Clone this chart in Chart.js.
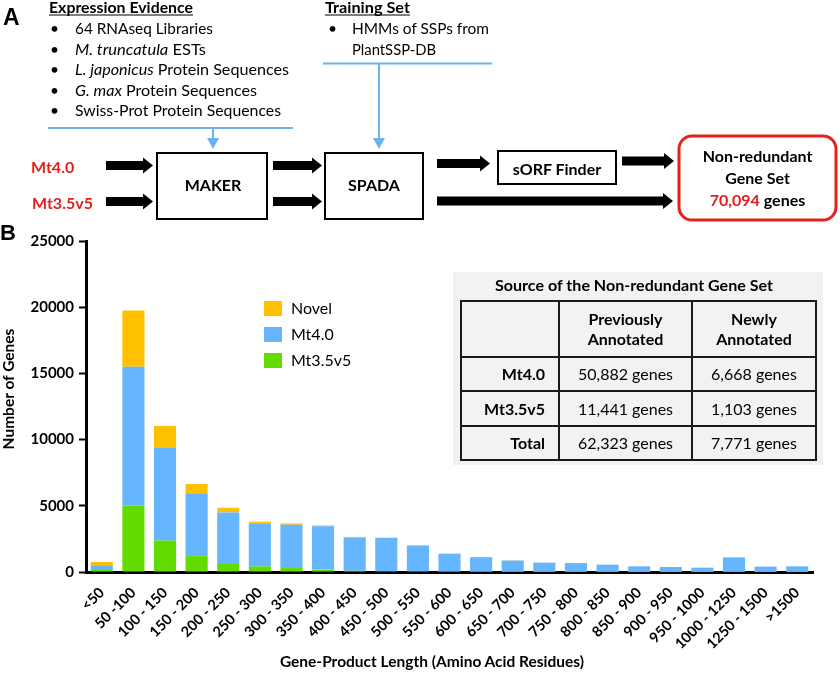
<!DOCTYPE html>
<html><head><meta charset="utf-8">
<script src="https://cdn.jsdelivr.net/npm/chart.js@4"></script>
<style>
html,body{margin:0;padding:0;background:#fff;}
#wrap{position:relative;width:840px;height:675px;overflow:hidden;}
#c{position:absolute;left:0;top:0;}
#ov{position:absolute;left:0;top:0;font-family:Lato,'Open Sans',sans-serif;}
</style></head><body>
<div id="wrap">
<canvas id="c" width="840" height="675"></canvas>
<svg id="ov" width="840" height="675" xmlns="http://www.w3.org/2000/svg">
  <!-- Panel A -->
  <text x="3" y="25" font-family="'Liberation Sans',Arial,sans-serif" font-weight="bold" font-size="23">A</text>
  <text x="49" y="12.5" font-weight="bold" font-size="15" textLength="144" lengthAdjust="spacingAndGlyphs">Expression Evidence</text>
  <line x1="49" y1="15" x2="193" y2="15" stroke="#000" stroke-width="1.2"/>
  <g font-size="15.5">
    <text x="50" y="34">•</text><text x="75" y="34" textLength="138" lengthAdjust="spacingAndGlyphs">64 RNAseq Libraries</text>
    <text x="50" y="54.5">•</text><text x="75" y="54.5" textLength="131" lengthAdjust="spacingAndGlyphs"><tspan font-style="italic">M. truncatula</tspan> ESTs</text>
    <text x="50" y="75">•</text><text x="75" y="75" textLength="214" lengthAdjust="spacingAndGlyphs"><tspan font-style="italic">L. japonicus</tspan> Protein Sequences</text>
    <text x="50" y="95.5">•</text><text x="75" y="95.5" textLength="182" lengthAdjust="spacingAndGlyphs"><tspan font-style="italic">G. max</tspan> Protein Sequences</text>
    <text x="50" y="116">•</text><text x="75" y="116" textLength="206" lengthAdjust="spacingAndGlyphs">Swiss-Prot Protein Sequences</text>
  </g>
  <text x="325" y="12.5" font-weight="bold" font-size="15" textLength="85" lengthAdjust="spacingAndGlyphs">Training Set</text>
  <line x1="325" y1="15" x2="410" y2="15" stroke="#000" stroke-width="1.2"/>
  <g font-size="15.5">
    <text x="328" y="34">•</text><text x="352" y="34" textLength="137" lengthAdjust="spacingAndGlyphs">HMMs of SSPs from</text>
    <text x="352" y="54.5" textLength="84" lengthAdjust="spacingAndGlyphs">PlantSSP-DB</text>
  </g>
  <!-- blue lines and arrows -->
  <g stroke="#6ab3ee" stroke-width="2" fill="none">
    <line x1="48" y1="128" x2="293" y2="128"/>
    <line x1="213" y1="128" x2="213" y2="140"/>
    <line x1="323" y1="63.5" x2="492" y2="63.5"/>
    <line x1="379" y1="63.5" x2="379" y2="140"/>
  </g>
  <polygon points="207,138 219,138 213,149" fill="#6ab3ee"/>
  <polygon points="373,138 385,138 379,149" fill="#6ab3ee"/>
  <!-- boxes -->
  <rect x="157" y="153" width="110" height="66" fill="none" stroke="#000" stroke-width="2"/>
  <text x="213" y="190.5" text-anchor="middle" font-weight="bold" font-size="16">MAKER</text>
  <rect x="325" y="153" width="98" height="66" fill="none" stroke="#000" stroke-width="2"/>
  <text x="374" y="190.5" text-anchor="middle" font-weight="bold" font-size="16">SPADA</text>
  <rect x="498" y="151" width="118" height="33" fill="none" stroke="#000" stroke-width="2"/>
  <text x="557" y="174.5" text-anchor="middle" font-weight="bold" font-size="16">sORF Finder</text>
  <rect x="679" y="136" width="157" height="84" rx="13" ry="13" fill="none" stroke="#e3201b" stroke-width="3"/>
  <g font-weight="bold" font-size="16" text-anchor="middle">
    <text x="757.5" y="162">Non-redundant</text>
    <text x="757.5" y="184">Gene Set</text>
    <text x="757.5" y="205.5"><tspan fill="#e3201b">70,094</tspan> genes</text>
  </g>
  <g font-weight="bold" font-size="16" fill="#e3201b">
    <text x="31" y="172.5">Mt4.0</text>
    <text x="32" y="208.5">Mt3.5v5</text>
  </g>
  <g id="arrows" fill="#000"></g>

  <!-- Panel B -->
  <text x="0" y="240" font-family="'Liberation Sans',Arial,sans-serif" font-weight="bold" font-size="22">B</text>
  <text transform="translate(14,389) rotate(-90)" text-anchor="middle" font-weight="bold" font-size="15.5">Number of Genes</text>
  <text x="432" y="667" text-anchor="middle" font-weight="bold" font-size="15.5">Gene-Product Length (Amino Acid Residues)</text>
  <g id="legend" font-size="16"></g>

  <!-- table -->
  <rect x="453" y="272" width="370" height="193" fill="#f2f2f2"/>
  <text x="634" y="291" text-anchor="middle" font-weight="bold" font-size="15.5" textLength="278" lengthAdjust="spacingAndGlyphs">Source of the Non-redundant Gene Set</text>
  <g stroke="#1a1a1a" stroke-width="2" fill="none">
    <rect x="461" y="301" width="355" height="159"/>
    <line x1="559" y1="301" x2="559" y2="460"/>
    <line x1="692" y1="301" x2="692" y2="460"/>
    <line x1="461" y1="357" x2="816" y2="357"/>
    <line x1="461" y1="391" x2="816" y2="391"/>
    <line x1="461" y1="426" x2="816" y2="426"/>
  </g>
  <g id="tbl" font-size="16"></g>
</svg>
</div>
<script>
// ---- data ----
const categories = ["<50","50 -100","100 - 150","150 - 200","200 - 250","250 - 300","300 - 350","350 - 400","400 - 450","450 - 500","500 - 550","550 - 600","600 - 650","650 - 700","700 - 750","750 - 800","800 - 850","850 - 900","900 - 950","950 - 1000","1000 - 1250","1250 - 1500",">1500"];
const mt35v5 = [150, 5030, 2380, 1200, 670, 420, 300, 180, 90, 60, 40, 30, 20, 15, 10, 10, 10, 5, 5, 5, 10, 5, 5];
const mt40   = [360, 10470, 7020, 4750, 3830, 3200, 3270, 3280, 2530, 2510, 1960, 1350, 1100, 850, 695, 665, 545, 420, 370, 320, 1090, 400, 420];
const novel  = [250, 4250, 1630, 700, 350, 180, 100, 60, 30, 30, 20, 10, 10, 15, 5, 5, 5, 5, 5, 5, 10, 5, 5];
const yTickValues = [0, 5000, 10000, 15000, 20000, 25000];
const seriesNames = ["Mt3.5v5", "Mt4.0", "Novel"];
const seriesColors = ["#62DC00", "#66B5FF", "#FFC000"];
// table
const tableTitle = "Source of the Non-redundant Gene Set";
const tableCols = ["Previously|Annotated", "Newly|Annotated"];
const tableRows = ["Mt4.0", "Mt3.5v5", "Total"];
const prevAnnotated = ["50,882 genes", "11,441 genes", "62,323 genes"];
const newlyAnnotated = ["6,668 genes", "1,103 genes", "7,771 genes"];

const NS = "http://www.w3.org/2000/svg";
function el(tag, attrs, parent, text) {
  const e = document.createElementNS(NS, tag);
  for (const k in attrs) e.setAttribute(k, attrs[k]);
  if (text !== undefined) e.textContent = text;
  parent.appendChild(e);
  return e;
}
// black flow arrows
const arrowsG = document.getElementById('arrows');
function arrow(x1, x2, yc) {
  const b = 4.5, h = 8, hl = 10;
  const pts = [[x1, yc-b],[x2-hl, yc-b],[x2-hl, yc-h],[x2, yc],[x2-hl, yc+h],[x2-hl, yc+b],[x1, yc+b]];
  el('polygon', {points: pts.map(p => p.join(',')).join(' ')}, arrowsG);
}
arrow(106, 153, 165.5); arrow(106, 153, 201.5);
arrow(273, 322, 165.5); arrow(273, 322, 201.5);
arrow(437, 490, 163.5); arrow(622, 674, 161); arrow(437, 673, 201);

// legend (top to bottom: Novel, Mt4.0, Mt3.5v5)
const lg = document.getElementById('legend');
[2, 1, 0].forEach((si, i) => {
  el('rect', {x: 264, y: 301 + i * 26, width: 18, height: 15, fill: seriesColors[si]}, lg);
  el('text', {x: 291, y: 314 + i * 26}, lg, seriesNames[si]);
});
// table text
const tg = document.getElementById('tbl');
const colCenters = [625.5, 754];
tableCols.forEach((c, i) => {
  const [a, b] = c.split('|');
  el('text', {x: colCenters[i], y: 325, 'text-anchor': 'middle', 'font-weight': 'bold'}, tg, a);
  el('text', {x: colCenters[i], y: 345, 'text-anchor': 'middle', 'font-weight': 'bold'}, tg, b);
});
const rowBase = [379.5, 414.5, 448.5];
tableRows.forEach((r, i) => {
  el('text', {x: 545, y: rowBase[i], 'text-anchor': 'end', 'font-weight': 'bold'}, tg, r);
  el('text', {x: colCenters[0], y: rowBase[i], 'text-anchor': 'middle'}, tg, prevAnnotated[i]);
  el('text', {x: colCenters[1], y: rowBase[i], 'text-anchor': 'middle'}, tg, newlyAnnotated[i]);
});

// chart
const chart = new Chart(document.getElementById('c'), {
  type: 'bar',
  data: {
    labels: categories,
    datasets: [
      {label: seriesNames[0], data: mt35v5, backgroundColor: seriesColors[0]},
      {label: seriesNames[1], data: mt40, backgroundColor: seriesColors[1]},
      {label: seriesNames[2], data: novel, backgroundColor: seriesColors[2]}
    ]
  },
  options: {
    responsive: false, animation: false, devicePixelRatio: 1,
    layout: {padding: {left: 0, right: 27, top: 241, bottom: 0}},
    plugins: {legend: {display: false}, tooltip: {enabled: false}},
    datasets: {bar: {barPercentage: 0.7, categoryPercentage: 1}},
    scales: {
      x: {
        stacked: true,
        grid: {display: false},
        border: {display: true, color: '#000', width: 3},
        ticks: {color: '#000', font: {family: 'Lato', size: 14.5, weight: 'bold'}, minRotation: 45, maxRotation: 45, padding: 4, autoSkip: false},
        afterFit(s) { s.height = 103; }
      },
      y: {
        stacked: true, min: 0, max: 25000,
        grid: {display: true, drawOnChartArea: false, drawTicks: true, tickLength: 7, tickColor: '#000', tickWidth: 2},
        border: {display: true, color: '#000', width: 3},
        afterBuildTicks(s) { s.ticks = yTickValues.map(v => ({value: v})); },
        ticks: {color: '#000', font: {family: 'Lato', size: 15, weight: 'bold'}, padding: 5, callback: v => String(v)},
        afterFit(s) { s.width = 86; }
      }
    }
  }
});
</script>
</body></html>
